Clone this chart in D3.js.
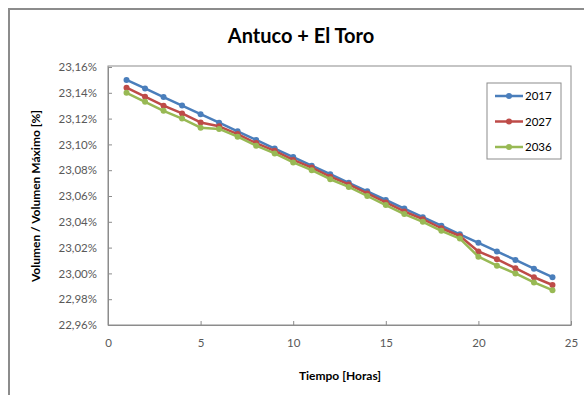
<!DOCTYPE html>
<html><head><meta charset="utf-8">
<script src="https://cdn.jsdelivr.net/npm/d3@7"></script>
<style>body{margin:0;background:#fff}svg{display:block}text{font-family:Lato,"Open Sans",sans-serif}</style>
</head><body>
<svg id="c" width="584" height="395"></svg>
<script>
const hours = d3.range(1, 25);
const seriesNames = ["2017", "2027", "2036"];
const v2017 = [23.150,23.1434,23.1367,23.1301,23.1234,23.1168,23.1101,23.1035,23.0968,23.0902,23.0835,23.0769,23.0702,23.0636,23.0569,23.0503,23.0436,23.0370,23.0303,23.0237,23.0170,23.0104,23.0037,22.9971];
const v2027 = [23.144,23.137,23.130,23.124,23.117,23.114,23.108,23.101,23.095,23.088,23.082,23.075,23.069,23.062,23.055,23.048,23.042,23.035,23.029,23.017,23.011,23.004,22.997,22.991];
const v2036 = [23.140,23.133,23.126,23.120,23.113,23.112,23.106,23.099,23.093,23.086,23.080,23.073,23.067,23.060,23.053,23.046,23.040,23.033,23.027,23.013,23.006,23.000,22.993,22.987];
const xTicks = [0,5,10,15,20,25];
const yTicks = [22.96,22.98,23.00,23.02,23.04,23.06,23.08,23.10,23.12,23.14,23.16];
const colors = ["#4a7ebb","#be4b48","#98b954"];
const values = [v2017, v2027, v2036];

const svg = d3.select("#c");
// outer frame
svg.append("path").attr("d","M9,395 L9,9 L584,9").attr("fill","none").attr("stroke","#8c8c8c").attr("stroke-width",2);

const L=108, R=571, T=67, B=325;
const x = d3.scaleLinear().domain([0,25]).range([L,R]);
const y = d3.scaleLinear().domain([22.96,23.16]).range([B,T]);

svg.append("rect").attr("x",L).attr("y",T-1).attr("width",R-L).attr("height",B-T+1)
  .attr("fill","none").attr("stroke","#8c8c8c").attr("stroke-width",1);

const fmt = v => v.toFixed(2).replace(".",",")+"%";
const yAx = svg.append("g").attr("transform",`translate(${L},0)`)
  .call(d3.axisLeft(y).tickValues(yTicks).tickFormat(fmt).tickSizeInner(-4).tickSizeOuter(0).tickPadding(11));
yAx.select(".domain").attr("stroke","#8c8c8c");
yAx.selectAll("line").attr("stroke","#8c8c8c");
yAx.selectAll("text").attr("fill","#595959").style("font-size","11.5px").style("font-family","Lato,sans-serif");

const xAx = svg.append("g").attr("transform",`translate(0,${B})`)
  .call(d3.axisBottom(x).tickValues(xTicks).tickSizeInner(-4).tickSizeOuter(0).tickPadding(14));
xAx.select(".domain").attr("stroke","#8c8c8c");
xAx.selectAll("line").attr("stroke","#8c8c8c");
xAx.selectAll("text").attr("fill","#595959").style("font-size","11.5px").style("font-family","Lato,sans-serif");

const line = d3.line().x((d,i)=>x(hours[i])).y(d=>y(d));
values.forEach((vals,k)=>{
  svg.append("path").datum(vals).attr("d",line).attr("fill","none")
    .attr("stroke",colors[k]).attr("stroke-width",2.5).attr("stroke-linejoin","round");
  svg.append("g").selectAll("circle").data(vals).join("circle")
    .attr("cx",(d,i)=>x(hours[i])).attr("cy",d=>y(d)).attr("r",3).attr("fill",colors[k]);
});

// title
svg.append("text").attr("x",301).attr("y",43).attr("text-anchor","middle")
  .style("font-size","20px").style("font-weight","bold").attr("fill","#000").text("Antuco + El Toro");
svg.append("text").attr("x",340).attr("y",380).attr("text-anchor","middle")
  .style("font-size","12px").style("font-weight","bold").attr("fill","#000").text("Tiempo [Horas]");
svg.append("text").attr("transform","translate(40,196) rotate(-90)").attr("text-anchor","middle")
  .style("font-size","12px").style("font-weight","bold").attr("fill","#000").text("Volumen / Volumen Máximo [%]");

// legend
const lg = svg.append("g");
lg.append("rect").attr("x",487).attr("y",83).attr("width",74).attr("height",76)
  .attr("fill","#fff").attr("stroke","#8c8c8c").attr("stroke-width",1);
seriesNames.forEach((n,k)=>{
  const ly = 96 + k*25.5;
  lg.append("line").attr("x1",495).attr("x2",523).attr("y1",ly).attr("y2",ly).attr("stroke",colors[k]).attr("stroke-width",2.5);
  lg.append("circle").attr("cx",509).attr("cy",ly).attr("r",3).attr("fill",colors[k]);
  lg.append("text").attr("x",525).attr("y",ly+4).style("font-size","11.5px").attr("fill","#000").text(n);
});
</script>
</body></html>
